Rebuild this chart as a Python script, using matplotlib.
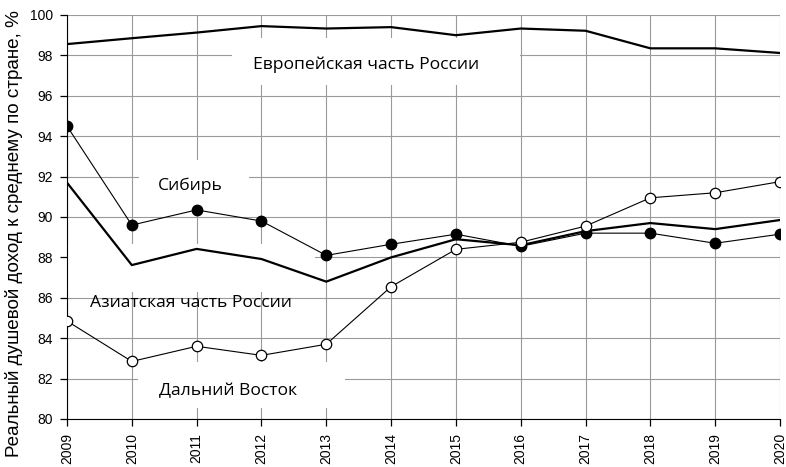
import matplotlib
matplotlib.use("Agg")
import matplotlib.pyplot as plt
from matplotlib.patches import Rectangle

years = [2009, 2010, 2011, 2012, 2013, 2014, 2015, 2016, 2017, 2018, 2019, 2020]
europe = [98.56, 98.85, 99.13, 99.45, 99.33, 99.4, 99.0, 99.33, 99.22, 98.35, 98.35, 98.12]
siberia = [94.5, 89.6, 90.35, 89.8, 88.1, 88.65, 89.15, 88.55, 89.2, 89.2, 88.7, 89.15]
asian = [91.7, 87.62, 88.42, 87.92, 86.8, 88.0, 88.9, 88.6, 89.3, 89.7, 89.4, 89.85]
fareast = [84.85, 82.85, 83.6, 83.15, 83.7, 86.55, 88.4, 88.75, 89.55, 90.95, 91.2, 91.75]
ylabel = "Реальный душевой доход к среднему по стране, %"
labels = ["Европейская часть России", "Сибирь", "Азиатская часть России", "Дальний Восток"]

fig = plt.figure(figsize=(7.86, 4.67), dpi=100)
ax = fig.add_axes([67/786, 1-419/467, (780-67)/786, (419-15)/467])

ax.plot(years, europe, color="black", lw=1.6, zorder=3)
ax.plot(years, asian, color="black", lw=1.6, zorder=3)
ax.plot(years, siberia, color="black", lw=0.8, marker="o", ms=7.5,
        mfc="black", mec="black", zorder=4)
ax.plot(years, fareast, color="black", lw=0.8, marker="o", ms=7.5,
        mfc="white", mec="black", mew=0.9, zorder=4)

ax.set_xlim(2009, 2020)
ax.set_ylim(80, 100)
ax.set_xticks(years)
ax.set_xticklabels([str(y) for y in years], rotation=90, family="Liberation Sans", fontsize=10)
ax.set_yticks(range(80, 101, 2))
ax.set_yticklabels([str(v) for v in range(80, 101, 2)], family="Liberation Sans", fontsize=10)
ax.grid(True, color="#9a9a9a", lw=0.8)
ax.set_axisbelow(True)
for s in ["top", "right"]:
    ax.spines[s].set_visible(False)
ax.spines["left"].set_color("black")
ax.spines["bottom"].set_color("black")
ax.tick_params(axis="both", length=5, width=0.9, color="black", pad=5)
fig.text(14/786, 1-234/467, ylabel, rotation=90, ha="center", va="center",
         family="Liberation Sans", fontsize=13.6)

# label boxes (white) and texts
boxes = [((2011.55, 96.53), 4.44, 2.33),
         ((2010.11, 90.50), 1.70, 2.32),
         ((2008.9, 86.29), 3.93, 2.37),
         ((2010.09, 80.54), 3.20, 2.28)]
pos = [(2013.61, 97.52), (2010.91, 91.53), (2010.91, 85.74), (2011.48, 81.39)]
for (xy, w, h), (tx, ty), lab in zip(boxes, pos, labels):
    ax.add_patch(Rectangle(xy, w, h, facecolor="white", edgecolor="none",
                           zorder=2, clip_on=True))
    ax.text(tx, ty, lab, family="Open Sans", fontsize=12.6, ha="center",
            va="center", zorder=2.5)

fig.savefig("out.png", dpi=100)
